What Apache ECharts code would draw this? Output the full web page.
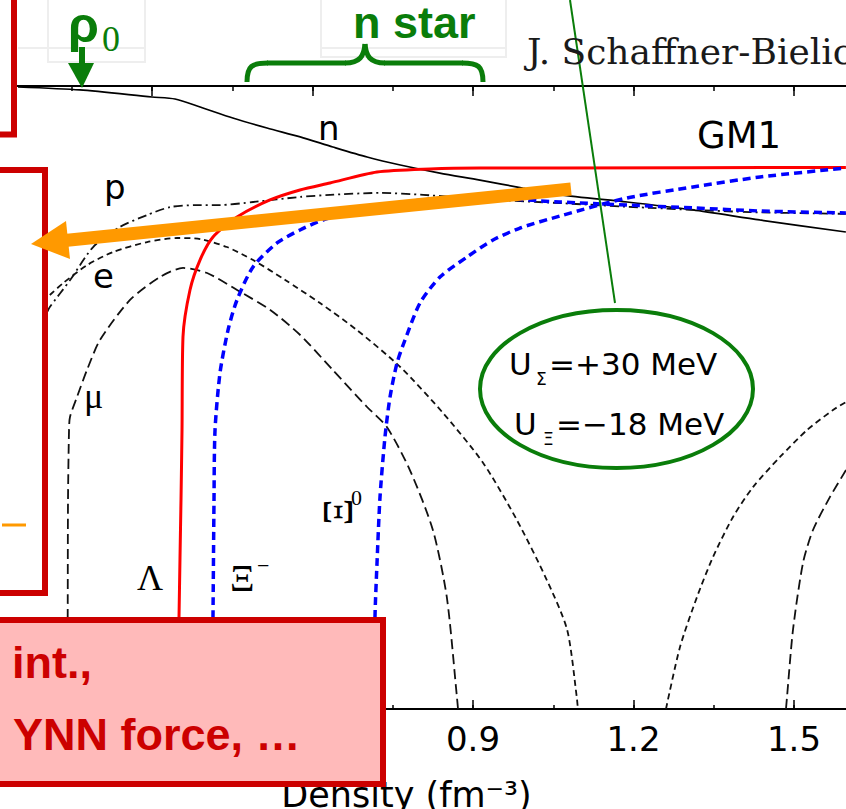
<!DOCTYPE html>
<html><head><meta charset="utf-8">
<script src="https://cdn.jsdelivr.net/npm/echarts@6/dist/echarts.min.js"></script>
<style>html,body{margin:0;padding:0;background:#fff}#c{width:846px;height:809px}</style>
</head><body><div id="c"></div>
<script>
// ---- data (density in fm^-3, particle fraction) ----
const densityN = [0.0495,0.165,0.300,0.343,0.390,0.451,0.515,0.577,0.638,0.702,0.764,0.838,0.913,0.993,1.063,1.188,1.311,1.436,1.597];
const fracN    = [0.985,0.943,0.850,0.825,0.733,0.623,0.537,0.471,0.406,0.350,0.311,0.276,0.249,0.221,0.200,0.180,0.160,0.138,0.1155];

const densityP = [0.104,0.109,0.147,0.190,0.240,0.291,0.334,0.384,0.427,0.489,0.577,0.633,0.726,0.807,0.913,1.063,1.231,1.418,1.597];
const fracP    = [0.0354,0.0381,0.0568,0.0925,0.1244,0.1485,0.167,0.172,0.172,0.180,0.194,0.200,0.206,0.200,0.188,0.177,0.165,0.155,0.151];

const densityE = [0.109,0.134,0.179,0.227,0.291,0.347,0.390,0.440,0.489,0.549,0.614,0.683,0.764,0.844,0.919,0.982,1.038,1.076,1.094,1.096];
const fracE    = [0.0455,0.0543,0.0709,0.0859,0.0996,0.1057,0.1041,0.0925,0.0763,0.0568,0.0404,0.0271,0.0157,0.00795,0.0038,0.001635,0.000673,0.000322,0.000119,0.0001];

const densityMu = [0.1420,0.1425,0.1430,0.1449,0.1467,0.1598,0.1785,0.2028,0.2589,0.315,0.358,0.403,0.459,0.521,0.577,0.638,0.702,0.739,0.782,0.825,0.851,0.870,0.872];
const fracMu    = [0.0001,0.0005,0.0022,0.00618,0.0075,0.01007,0.01502,0.0234,0.0423,0.0594,0.0679,0.063,0.049,0.0365,0.0252,0.0150,0.00869,0.00646,0.00342,0.00141,0.000524,0.000119,0.0001];

const densityLambda = [0.3486,0.3505,0.3542,0.3561,0.3579,0.371,0.3897,0.414,0.4589,0.5206,0.5766,0.6327,0.7206,0.8196,0.9131,1.0626,1.597];
const fracLambda    = [0.0001,0.00039,0.0022,0.00618,0.02445,0.049,0.0763,0.1073,0.1442,0.1854,0.215,0.2383,0.2804,0.2932,0.2976,0.298,0.300];

const densityXiMinus = [0.4121,0.414,0.4159,0.4178,0.4271,0.4421,0.4589,0.4888,0.5336,0.5766,0.6196,0.7131,0.8065,0.9131,1.0626,1.1879,1.3112,1.4364,1.597];
const fracXiMinus    = [0.0001,0.00039,0.0022,0.00618,0.01437,0.0271,0.0423,0.0689,0.0982,0.119,0.1379,0.167,0.1854,0.191,0.180,0.172,0.165,0.1576,0.153];

const densityXi0 = [0.715,0.7168,0.7206,0.7262,0.7355,0.7449,0.758,0.7729,0.8009,0.8383,0.8888,0.9374,0.9879,1.0626,1.1879,1.3112,1.4364,1.597];
const fracXi0    = [0.0001,0.00039,0.000866,0.0023,0.00558,0.01007,0.01665,0.0234,0.0404,0.0594,0.0798,0.1026,0.1225,0.1463,0.191,0.2246,0.2604,0.2976];

const densitySigmaA = [1.2607,1.2869,1.3187,1.3486,1.386,1.4234,1.4738,1.5243,1.5729,1.5972];
const fracSigmaA    = [0.0001,0.00025,0.000524,0.000946,0.00171,0.00266,0.00415,0.00618,0.00831,0.00936];

const densitySigmaB = [1.485,1.4869,1.4981,1.5168,1.5355,1.5673,1.5972];
const fracSigmaB    = [0.0001,0.000119,0.000322,0.000866,0.00141,0.0023,0.00342];

const xTickLabels = ['0.9','1.2','1.5'];

// ---- chart ----
const chart = echarts.init(document.getElementById('c'), null, {renderer:'svg'});
const zip = (xs, ys) => xs.map((x, i) => [x, ys[i]]);
const GREEN = '#0A7D0A', RED = '#CC0000';
const SANS = 'DejaVu Sans', SERIF = 'Liberation Serif', SLIDE = 'Liberation Sans';

function S(name, xs, ys, color, width, type) {
  return {type:'line', name, data: zip(xs, ys), showSymbol:false, symbol:'none', smooth:0.25,
          clip:true, lineStyle:{color, width, type}, z:3};
}
function T(text, x, y, size, family, style, el) {
  return Object.assign({type:'text', x, y, z:110,
    style: Object.assign({text, fontSize:size, fontFamily:family, fill:'#000', align:'left', verticalAlign:'middle'}, style || {})}, el || {});
}
const BOX = {stroke: RED, lineWidth: 6};

const xBase = {type:'value', min:0, max:1.6, splitLine:{show:false}, axisLine:{onZero:false}};
const option = {
  animation: false,
  backgroundColor: '#fff',
  grid: {left:-8.5, right:-1.5, top:86, bottom:100, containLabel:false, outerBoundsMode:'none'},
  xAxis: [
    Object.assign({}, xBase, {position:'bottom', interval:0.3,
      axisLine:{show:true, onZero:false, lineStyle:{color:'#000', width:2}},
      axisTick:{inside:true, length:9, lineStyle:{color:'#000', width:1.5}},
      axisLabel:{margin:13, fontSize:34, fontFamily:SANS, color:'#000', showMaxLabel:false,
        formatter: v => { const s = v.toFixed(1); return xTickLabels.indexOf(s) >= 0 ? s : ''; }},
      name:'Density (fm⁻³)', nameLocation:'middle', nameGap:68,
      nameTextStyle:{fontSize:35, fontFamily:SANS, color:'#000', padding:[0,26,0,0]}}),
    Object.assign({}, xBase, {position:'bottom', interval:0.15,
      axisLine:{show:false, onZero:false}, axisTick:{inside:true, length:4, lineStyle:{color:'#000', width:1.5}},
      axisLabel:{show:false}}),
    Object.assign({}, xBase, {position:'top', interval:0.3,
      axisLine:{show:true, onZero:false, lineStyle:{color:'#000', width:2}},
      axisTick:{inside:true, length:10, lineStyle:{color:'#000', width:1.5}}, axisLabel:{show:false}}),
    Object.assign({}, xBase, {position:'top', interval:0.15,
      axisLine:{show:false, onZero:false}, axisTick:{inside:true, length:5, lineStyle:{color:'#000', width:1.5}},
      axisLabel:{show:false}})
  ],
  yAxis: [{type:'log', logBase:10, min:0.0001, max:1, position:'right',
    axisLine:{show:false}, axisTick:{show:true, inside:true, length:11, lineStyle:{color:'#000', width:1.5}},
    axisLabel:{show:false}, splitLine:{show:false}}],
  series: [
    S('n', densityN, fracN, '#000', 1.7, 'solid'),
    S('p', densityP, fracP, '#111', 1.8, [9,4,2,4]),
    S('e', densityE, fracE, '#111', 1.8, [6,4]),
    S('μ', densityMu, fracMu, '#111', 1.8, [10,5]),
    S('Σ⁻', densitySigmaA, fracSigmaA, '#111', 1.8, [6,4]),
    S('Σ⁰', densitySigmaB, fracSigmaB, '#111', 1.8, [10,5]),
    S('Λ', densityLambda, fracLambda, '#FF0000', 3, 'solid'),
    S('Ξ⁻', densityXiMinus, fracXiMinus, '#0000FF', 3.5, [8,5]),
    S('Ξ⁰', densityXi0, fracXi0, '#0000FF', 3.5, [8,5])
  ],
  graphic: { elements: [
    // faint slide boxes
    {type:'rect', z:90, shape:{x:48, y:-5, width:97, height:67}, style:{fill:'none', stroke:'#eeeeee', lineWidth:2}},
    {type:'line', z:90, shape:{x1:18, y1:48, x2:145, y2:48}, style:{stroke:'#eeeeee', lineWidth:2}},
    {type:'rect', z:90, shape:{x:321, y:-5, width:185, height:62}, style:{fill:'none', stroke:'#eeeeee', lineWidth:2}},
    {type:'line', z:90, shape:{x1:321, y1:48, x2:506, y2:48}, style:{stroke:'#eeeeee', lineWidth:2}},
    // figure labels
    T('n', 318, 128, 34, SANS),
    T('p', 104, 187, 34, SANS),
    T('e', 93, 276, 34, SANS),
    T('GM1', 697, 135, 37, SANS),
    T('μ', 84, 396, 36, SERIF),
    T('Λ', 137, 578, 36, SERIF),
    T('Ξ', 230, 578, 38, SERIF),
    T('−', 257, 565, 22, SERIF),
    T('Ξ', 338, 512, 42, SERIF, {align:'center'}, {rotation: Math.PI/2}),
    T('0', 351, 497, 22, SERIF),
    T('J. Schaffner-Bielich', 527, 51, 36, 'DejaVu Serif', {fill:'#1a1a1a'}),
    // ellipse with potentials
    {type:'ellipse', z:100, shape:{cx:616.5, cy:389, rx:136.5, ry:79}, style:{fill:'none', stroke:GREEN, lineWidth:4}},
    T('U', 509, 364, 31, SANS),
    T('Σ', 536, 379, 17, SANS),
    T('=+30 MeV', 549, 364, 31, SANS),
    T('U', 514, 424, 31, SANS),
    T('Ξ', 543, 439, 17, SANS),
    T('=−18 MeV', 556, 424, 31, SANS),
    // green pointer line
    {type:'line', z:105, shape:{x1:570, y1:0, x2:615, y2:303}, style:{stroke:GREEN, lineWidth:2}},
    // rho0 + arrow
    T('ρ', 68, 25, 50, SLIDE, {fill:GREEN, fontWeight:'bold'}),
    T('0', 102, 39, 36, SERIF, {fill:GREEN}),
    {type:'rect', z:105, shape:{x:79, y:47, width:6, height:18}, style:{fill:GREEN}},
    {type:'polygon', z:105, shape:{points:[[68,63],[94,63],[82,88]]}, style:{fill:GREEN}},
    // n star + brace
    T('n star', 353, 22, 45, SLIDE, {fill:GREEN, fontWeight:'bold'}),
    {type:'bezierCurve', z:105, shape:{x1:247, y1:82, cpx1:247, cpy1:66, cpx2:252, cpy2:63, x2:268, y2:63}, style:{stroke:GREEN, lineWidth:5, fill:'none'}},
    {type:'line', z:105, shape:{x1:267, y1:63, x2:346, y2:63}, style:{stroke:GREEN, lineWidth:5}},
    {type:'bezierCurve', z:105, shape:{x1:345, y1:63, cpx1:360, cpy1:63, cpx2:364, cpy2:56, x2:365, y2:44}, style:{stroke:GREEN, lineWidth:5, fill:'none'}},
    {type:'bezierCurve', z:105, shape:{x1:365, y1:44, cpx1:366, cpy1:56, cpx2:370, cpy2:63, x2:385, y2:63}, style:{stroke:GREEN, lineWidth:5, fill:'none'}},
    {type:'line', z:105, shape:{x1:384, y1:63, x2:463, y2:63}, style:{stroke:GREEN, lineWidth:5}},
    {type:'bezierCurve', z:105, shape:{x1:462, y1:63, cpx1:478, cpy1:63, cpx2:483, cpy2:66, x2:483, y2:82}, style:{stroke:GREEN, lineWidth:5, fill:'none'}},
    // red boxes
    {type:'rect', z:120, shape:{x:-20, y:-20, width:34, height:154.5}, style:Object.assign({fill:'#fff'}, BOX)},
    {type:'rect', z:120, shape:{x:-20, y:170, width:65, height:423}, style:Object.assign({fill:'#fff'}, BOX)},
    {type:'line', z:121, shape:{x1:2, y1:525, x2:26, y2:525}, style:{stroke:'#FF9900', lineWidth:3}},
    // orange arrow
    {type:'line', z:125, shape:{x1:571, y1:189, x2:60, y2:241}, style:{stroke:'#FF9900', lineWidth:13}},
    {type:'polygon', z:125, shape:{points:[[31,244],[66,221],[70,259]]}, style:{fill:'#FF9900'}},
    // pink box
    {type:'rect', z:130, shape:{x:-20, y:620, width:403, height:164}, style:Object.assign({fill:'#FFBABA'}, BOX)},
    T('int.,', 12, 662, 45, SLIDE, {fill:RED, fontWeight:'bold'}, {z:131}),
    T('YNN force, …', 13, 734, 45, SLIDE, {fill:RED, fontWeight:'bold'}, {z:131})
  ]}
};
chart.setOption(option);
</script>
</body></html>
